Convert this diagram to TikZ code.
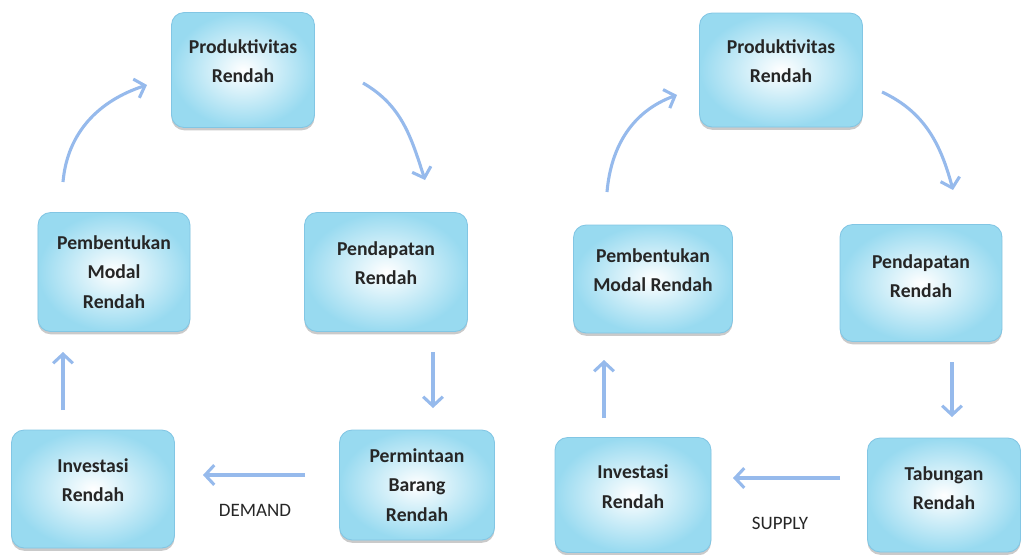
\documentclass[tikz,border=0pt]{standalone}
\usepackage{fontspec}
\setmainfont{Carlito}
\usepackage{tikz}
\usetikzlibrary{arrows.meta,shadows}

\definecolor{boxblue}{RGB}{152,218,240}
\definecolor{boxline}{RGB}{130,198,228}
\definecolor{arrowblue}{RGB}{150,186,236}

\tikzset{
  cyclebox/.style={rounded corners=9pt, draw=boxline, line width=0.6pt,
    shading=radial, inner color=white, outer color=boxblue,
    drop shadow={shadow xshift=0pt, shadow yshift=-2pt, opacity=0.35, fill=black!60},
    align=center, font=\bfseries\fontsize{14}{21}\selectfont, text=black!85},
  lift/.style={text depth=#1},
  flow/.style={draw=arrowblue, line width=2.2pt, -{Straight Barb[length=6.5pt,width=14pt]}},
  tag/.style={font=\fontsize{13.5}{16}\selectfont, text=black!85}
}

\begin{document}
\begin{tikzpicture}[x=0.25mm,y=0.25mm]

\useasboundingbox (0,0) rectangle (1022,-555);

% left cycle: demand side
\node[cyclebox, lift=13pt, minimum width=35.75mm, minimum height=28.75mm] (a1) at (243,-70) {Produktivitas\\Rendah};
\node[cyclebox, lift=13pt, minimum width=40.75mm, minimum height=29.75mm] (a2) at (386,-272) {Pendapatan\\Rendah};
\node[cyclebox, minimum width=38.75mm, minimum height=27.5mm] (a3) at (417,-485) {Permintaan\\Barang\\Rendah};
\node[cyclebox, lift=13pt, minimum width=40.75mm, minimum height=29.5mm] (a4) at (93,-489) {Investasi\\Rendah};
\node[cyclebox, minimum width=38mm, minimum height=29.75mm] (a5) at (114,-272) {Pembentukan\\Modal\\Rendah};

% right cycle: supply side
\node[cyclebox, lift=13pt, minimum width=40.75mm, minimum height=28.5mm] (b1) at (781,-70) {Produktivitas\\Rendah};
\node[cyclebox, lift=10pt, minimum width=40.5mm, minimum height=29.25mm] (b2) at (921,-283) {Pendapatan\\Rendah};
\node[cyclebox, lift=10pt, minimum width=38.25mm, minimum height=28.5mm] (b3) at (944,-495) {Tabungan\\Rendah};
\node[cyclebox, lift=12pt, minimum width=39mm, minimum height=28.75mm] (b4) at (633,-495) {Investasi\\Rendah};
\node[cyclebox, lift=13pt, minimum width=39.75mm, minimum height=27mm] (b5) at (653,-279) {Pembentukan\\Modal Rendah};

\node[tag] (dm) at (255,-510) {DEMAND};
\node[tag] (sp) at (780,-523) {SUPPLY};

% arrow ends
\coordinate (s1) at (63,-182);   \coordinate (e1) at (147,-85);
\coordinate (s2) at (363,-83);   \coordinate (e2) at (425,-180);
\coordinate (s3) at (433,-352);  \coordinate (e3) at (433,-408);
\coordinate (s4) at (305,-475);  \coordinate (e4) at (203,-475);
\coordinate (s5) at (63,-410);   \coordinate (e5) at (63,-352);

\coordinate (t1) at (607,-192);  \coordinate (f1) at (677,-95);
\coordinate (t2) at (882,-92);   \coordinate (f2) at (953,-190);
\coordinate (t3) at (952,-362);  \coordinate (f3) at (952,-417);
\coordinate (t4) at (840,-478);  \coordinate (f4) at (733,-478);
\coordinate (t5) at (604,-418);  \coordinate (f5) at (604,-360);

\draw[flow] (s1) to[out=85,in=198] (e1);
\draw[flow] (s2) to[out=-30,in=108] (e2);
\draw[flow] (s3) -- (e3);
\draw[flow] (s4) -- (e4);
\draw[flow] (s5) -- (e5);

\draw[flow] (t1) to[out=85,in=200] (f1);
\draw[flow] (t2) to[out=-25,in=105] (f2);
\draw[flow] (t3) -- (f3);
\draw[flow] (t4) -- (f4);
\draw[flow] (t5) -- (f5);

\end{tikzpicture}
\end{document}
